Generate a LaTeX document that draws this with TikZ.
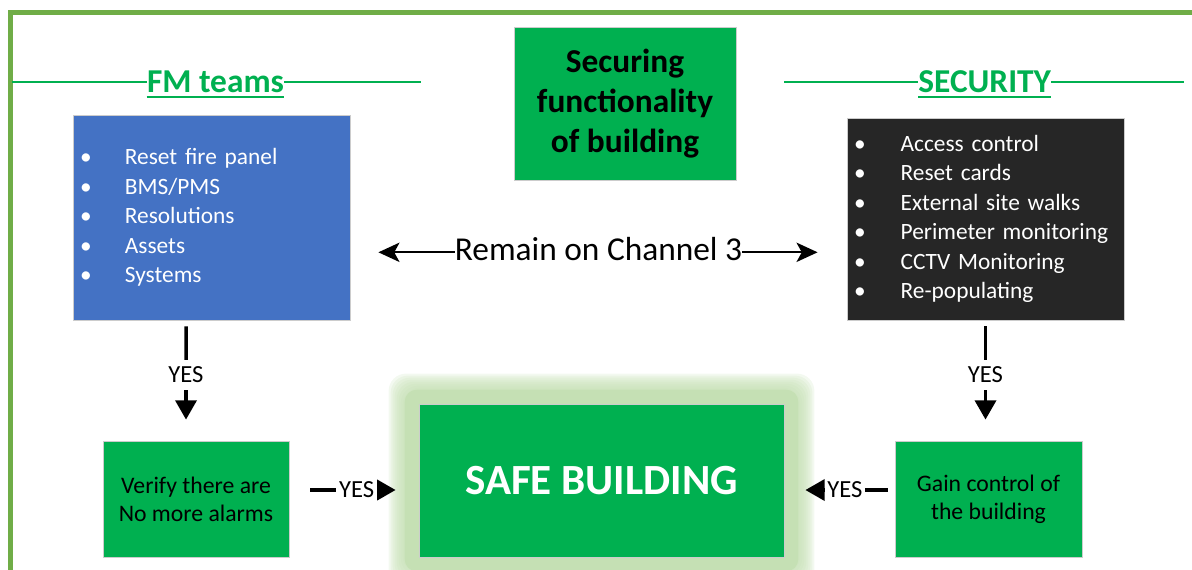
\documentclass[tikz,border=0pt]{standalone}
\usepackage{fontspec}
\setmainfont{Carlito}
\usetikzlibrary{arrows.meta,backgrounds}

\definecolor{framegreen}{HTML}{70AD47}
\definecolor{fmgreen}{HTML}{00B050}
\definecolor{fmblue}{HTML}{4472C4}
\definecolor{secblack}{HTML}{262626}
\definecolor{glowgreen}{HTML}{C5E0B4}

% bullet line for the two lists
\newcommand{\bul}[2][29.5pt]{\makebox[#1][l]{\hspace{4pt}\textbullet}#2}

\begin{document}
\begin{tikzpicture}[x=0.02cm, y=-0.02cm]
    \tikzset{
      box/.style={draw=black!20, line width=0.5pt, inner sep=0pt, align=center},
      greenbox/.style={box, fill=fmgreen},
      listbox/.style={box, text=white, align=left, text width=5.54cm, minimum height=4.1cm,
        font=\fontsize{13.3}{16.8}\selectfont},
      header/.style={text=fmgreen, font=\fontsize{19}{23}\selectfont\bfseries, inner sep=0pt, anchor=base},
      hline/.style={fmgreen, line width=1.15pt},
      yesarrow/.style={line width=2pt, -{Triangle[length=11pt, width=12pt]}},
      chanarrow/.style={line width=1.2pt,
        {Stealth[length=12pt, width=11pt, inset=3pt]}-{Stealth[length=12pt, width=11pt, inset=3pt]}},
      yes/.style={fill=white, inner xsep=1.5pt, inner ysep=4pt, font=\fontsize{14}{16}\selectfont}
    };
    \useasboundingbox (0, 0) rectangle (1192, 569);

    % Frame
    \draw[framegreen, line width=0.1cm] (10.8, 600) -- (10.8, 12.5) -- (1220, 12.5);

    % Headers
    \node[header] (fmt) at (215.5, 92.5) {FM teams};
    \node[header] (sect) at (984.7, 92.5) {SECURITY};
    \coordinate (fml) at (12, 82.3);
    \coordinate (fmr) at (421, 82.3);
    \coordinate (secl) at (784, 82.3);
    \coordinate (secr) at (1184, 82.3);
    \draw[hline] (fml) -- (fml -| fmt.west);
    \draw[hline] (fmt.east |- fmr) -- (fmr);
    \draw[hline] (secl) -- (secl -| sect.west);
    \draw[hline] (sect.east |- secr) -- (secr);
    \foreach \t in {fmt, sect} {
      \draw[hline] ([yshift=-2.6pt]\t.base west) -- ([yshift=-2.6pt]\t.base east);
    }

    % Top row
    \node[greenbox, minimum width=4.44cm, minimum height=3.06cm,
      font=\fontsize{19}{22.8}\selectfont\bfseries] (goal) at (625, 103.5)
      {Securing\\functionality\\of building};

    \node[listbox, fill=fmblue] (fm) at (211.5, 217.5)
      {\bul{Reset fire panel}\\ \bul{BMS/PMS}\\ \bul{Resolutions}\\ \bul{Assets}\\ \bul{Systems}};

    \node[listbox, fill=secblack, minimum height=4.04cm] (sec) at (985.5, 219)
      {\bul[30.5pt]{Access control}\\ \bul[30.5pt]{Reset cards}\\ \bul[30.5pt]{External site walks}\\
       \bul[30.5pt]{Perimeter monitoring}\\ \bul[30.5pt]{CCTV Monitoring}\\ \bul[30.5pt]{Re-populating}};

    % Bottom row
    \node[greenbox, minimum width=3.72cm, minimum height=2.32cm,
      font=\fontsize{13.5}{16}\selectfont] (vf) at (196, 499) {Verify there are\\No more alarms};
    \node[greenbox, minimum width=7.3cm, minimum height=3.06cm, text=white,
      font=\fontsize{24.5}{29}\selectfont\bfseries] (safe) at (601.5, 480.5) {SAFE BUILDING};
    \node[greenbox, minimum width=3.74cm, minimum height=2.32cm,
      font=\fontsize{13.5}{16}\selectfont] (gc) at (988.5, 499) {Gain control of\\the building};

    % Glow
    \begin{scope}[on background layer]
      \foreach \d in {30, 28, ..., 16} {
        \fill[glowgreen, fill opacity=0.2, rounded corners=0.35cm]
          ([shift={(-\d, -\d)}]safe.north west) rectangle ([shift={(\d, \d)}]safe.south east);
      }
      \fill[glowgreen, rounded corners=0.25cm]
        ([shift={(-14, -14)}]safe.north west) rectangle ([shift={(14, 14)}]safe.south east);
    \end{scope}

    % Edges
    \coordinate (ch) at (598, 252.3);
    \draw[chanarrow, shorten <=0.56cm, shorten >=0.58cm] (fm.east |- ch) --
      node[midway, anchor=base, yshift=-0.16cm, fill=white, inner xsep=0pt, inner ysep=2pt,
        font=\fontsize{19}{23}\selectfont] {Remain on Channel 3} (sec.west |- ch);

    \draw[yesarrow, shorten <=0.12cm, shorten >=0.42cm]
      ([xshift=-0.51cm]fm.south) -- node[yes, pos=0.455] {YES} ([xshift=-0.2cm]vf.north);
    \draw[yesarrow, shorten <=0.12cm, shorten >=0.42cm]
      (sec.south) -- node[yes, pos=0.455] {YES} (sec.south |- gc.north);

    \coordinate (yl) at (300, 490);
    \coordinate (yr) at (850, 490);
    \draw[yesarrow, shorten <=0.42cm, shorten >=0.46cm]
      (vf.east |- yl) -- node[yes, pos=0.52] {YES} (safe.west |- yl);
    \draw[yesarrow, shorten <=0.14cm, shorten >=0.42cm]
      (gc.west |- yr) -- node[yes, pos=0.45] {YES} (safe.east |- yr);
  \end{tikzpicture}
\end{document}
